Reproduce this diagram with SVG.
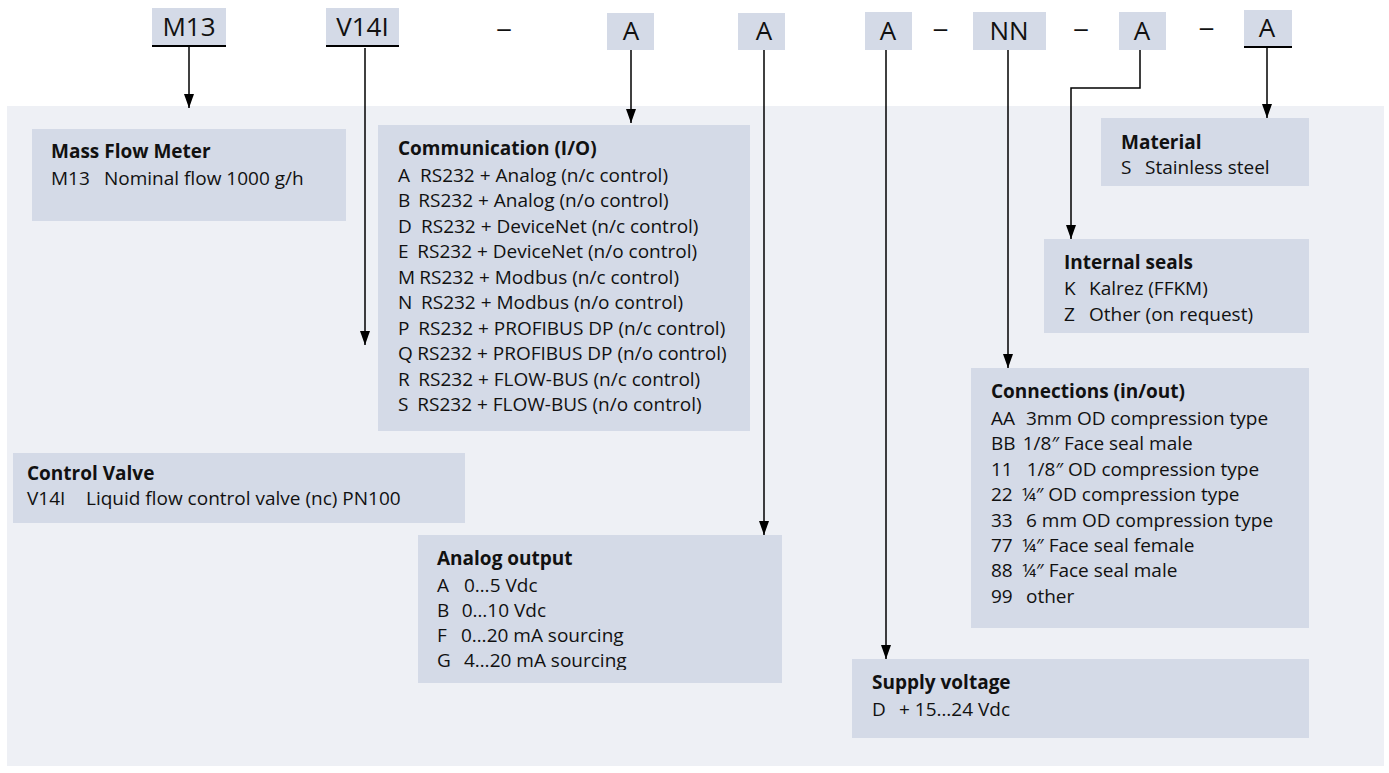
<svg xmlns="http://www.w3.org/2000/svg" width="1389" height="773" viewBox="0 0 1389 773">
<style>
.bg{fill:#eef0f5}
.box{fill:#d4dae7}
.hd{font-family:"Open Sans","Noto Sans","Liberation Sans",sans-serif;font-size:26px;fill:#111;text-anchor:middle}
.dash{font-family:"Open Sans","Noto Sans","Liberation Sans",sans-serif;font-size:26px;fill:#111}
.t{font-family:"Open Sans","Noto Sans","Liberation Sans",sans-serif;font-size:19px;fill:#111}
.b{font-weight:bold}
.ul{stroke:#000;stroke-width:2}
.con{fill:none;stroke:#000;stroke-width:1.5}
</style>
<defs>
<marker id="ah" viewBox="0 0 14 10" refX="14" refY="5" markerWidth="14" markerHeight="10" markerUnits="userSpaceOnUse" orient="auto">
<path d="M0,0 L14,5 L0,10 z" fill="#000"/>
</marker>
<clipPath id="clipAo"><rect x="418" y="535" width="364" height="135"/></clipPath>
</defs>
<rect width="1389" height="773" fill="#fff"/>
<rect class="bg" x="7" y="106" width="1377" height="660"/>

<g id="header">
<g id="h-m13"><rect class="box" x="152" y="8" width="74" height="38"/><line class="ul" x1="152" y1="46" x2="226" y2="46"/><text class="hd" x="189" y="36">M13</text></g>
<g id="h-v14i"><rect class="box" x="326" y="8" width="73" height="38"/><line class="ul" x1="326" y1="46" x2="399" y2="46"/><text class="hd" x="362.5" y="36">V14I</text></g>
<text class="dash" x="496" y="37" textLength="16" lengthAdjust="spacingAndGlyphs">–</text>
<g id="h-a1"><rect class="box" x="607" y="13" width="47" height="37"/><text class="hd" x="631" y="40">A</text></g>
<g id="h-a2"><rect class="box" x="738" y="13" width="47" height="37"/><text class="hd" x="764" y="40">A</text></g>
<g id="h-a3"><rect class="box" x="865" y="12" width="47" height="38"/><text class="hd" x="888" y="40">A</text></g>
<text class="dash" x="932.5" y="37" textLength="16" lengthAdjust="spacingAndGlyphs">–</text>
<g id="h-nn"><rect class="box" x="973" y="12" width="73" height="38"/><text class="hd" x="1009" y="40">NN</text></g>
<text class="dash" x="1073" y="37" textLength="16" lengthAdjust="spacingAndGlyphs">–</text>
<g id="h-a4"><rect class="box" x="1119" y="12" width="47" height="38"/><text class="hd" x="1142" y="40">A</text></g>
<text class="dash" x="1198.5" y="36" textLength="16" lengthAdjust="spacingAndGlyphs">–</text>
<g id="h-a5"><rect class="box" x="1244" y="10" width="48" height="37"/><line class="ul" x1="1244" y1="47" x2="1292" y2="47"/><text class="hd" x="1267" y="37">A</text></g>
</g>

<g id="connectors">
<path class="con" d="M189,46 V108" marker-end="url(#ah)"/>
<path class="con" d="M365,48 V345" marker-end="url(#ah)"/>
<path class="con" d="M631,50 V123" marker-end="url(#ah)"/>
<path class="con" d="M764,50 V535" marker-end="url(#ah)"/>
<path class="con" d="M886,50 V659" marker-end="url(#ah)"/>
<path class="con" d="M1008,50 V368" marker-end="url(#ah)"/>
<path class="con" d="M1140,50 V88 H1071 V239" marker-end="url(#ah)"/>
<path class="con" d="M1267,47 V118" marker-end="url(#ah)"/>
</g>

<g id="mass-flow-meter">
<rect class="box" x="32" y="129" width="314" height="92"/>
<text class="t b" x="51" y="158">Mass Flow Meter</text>
<text class="t" x="51" y="185">M13</text><text class="t" x="104" y="185">Nominal flow 1000 g/h</text>
</g>

<g id="communication">
<rect class="box" x="378" y="125" width="372" height="306"/>
<text class="t b" x="398" y="155">Communication (I/O)</text>
<text class="t" x="398" y="181.5">A</text><text class="t" x="420" y="181.5">RS232 + Analog (n/c control)</text>
<text class="t" x="398" y="207">B</text><text class="t" x="418.3" y="207">RS232 + Analog (n/o control)</text>
<text class="t" x="398" y="232.6">D</text><text class="t" x="421" y="232.6">RS232 + DeviceNet (n/c control)</text>
<text class="t" x="398" y="258.1">E</text><text class="t" x="417.3" y="258.1">RS232 + DeviceNet (n/o control)</text>
<text class="t" x="398" y="283.7">M</text><text class="t" x="419.3" y="283.7">RS232 + Modbus (n/c control)</text>
<text class="t" x="398" y="309.2">N</text><text class="t" x="421" y="309.2">RS232 + Modbus (n/o control)</text>
<text class="t" x="398" y="334.8">P</text><text class="t" x="418.3" y="334.8">RS232 + PROFIBUS DP (n/c control)</text>
<text class="t" x="398" y="360.3">Q</text><text class="t" x="417.3" y="360.3">RS232 + PROFIBUS DP (n/o control)</text>
<text class="t" x="398" y="385.9">R</text><text class="t" x="418.3" y="385.9">RS232 + FLOW-BUS (n/c control)</text>
<text class="t" x="398" y="411.4">S</text><text class="t" x="417.3" y="411.4">RS232 + FLOW-BUS (n/o control)</text>
</g>

<g id="control-valve">
<rect class="box" x="13" y="453" width="452" height="70"/>
<text class="t b" x="27" y="480">Control Valve</text>
<text class="t" x="27" y="505">V14I</text><text class="t" x="86" y="505">Liquid flow control valve (nc) PN100</text>
</g>

<g id="analog-output">
<rect class="box" x="418" y="535" width="364" height="148"/>
<g clip-path="url(#clipAo)">
<text class="t b" x="437" y="565">Analog output</text>
<text class="t" x="437" y="591.7">A</text><text class="t" x="464" y="591.7">0…5 Vdc</text>
<text class="t" x="437" y="616.5">B</text><text class="t" x="461.7" y="616.5">0…10 Vdc</text>
<text class="t" x="437" y="641.7">F</text><text class="t" x="461" y="641.7">0…20 mA sourcing</text>
<text class="t" x="437" y="667">G</text><text class="t" x="464" y="667">4…20 mA sourcing</text>
</g>
</g>

<g id="material">
<rect class="box" x="1101" y="118" width="208" height="68"/>
<text class="t b" x="1121" y="149">Material</text>
<text class="t" x="1121" y="174">S</text><text class="t" x="1145" y="174">Stainless steel</text>
</g>

<g id="internal-seals">
<rect class="box" x="1044" y="239" width="265" height="94"/>
<text class="t b" x="1064" y="269">Internal seals</text>
<text class="t" x="1064" y="295">K</text><text class="t" x="1089" y="295">Kalrez (FFKM)</text>
<text class="t" x="1064" y="320.7">Z</text><text class="t" x="1089" y="320.7">Other (on request)</text>
</g>

<g id="connections">
<rect class="box" x="971" y="368" width="338" height="260"/>
<text class="t b" x="991" y="398">Connections (in/out)</text>
<text class="t" x="991" y="425">AA</text><text class="t" x="1026" y="425">3mm OD compression type</text>
<text class="t" x="991" y="450.3">BB</text><text class="t" x="1022.7" y="450.3">1/8″ Face seal male</text>
<text class="t" x="991" y="475.7">11</text><text class="t" x="1026.7" y="475.7">1/8″ OD compression type</text>
<text class="t" x="991" y="501">22</text><text class="t" x="1021.7" y="501">¼″ OD compression type</text>
<text class="t" x="991" y="526.5">33</text><text class="t" x="1026" y="526.5">6 mm OD compression type</text>
<text class="t" x="991" y="552">77</text><text class="t" x="1022" y="552">¼″ Face seal female</text>
<text class="t" x="991" y="577">88</text><text class="t" x="1022" y="577">¼″ Face seal male</text>
<text class="t" x="991" y="603">99</text><text class="t" x="1026" y="603">other</text>
</g>

<g id="supply-voltage">
<rect class="box" x="852" y="659" width="457" height="79"/>
<text class="t b" x="872" y="689">Supply voltage</text>
<text class="t" x="872" y="716">D</text><text class="t" x="899" y="716">+ 15…24 Vdc</text>
</g>
</svg>
